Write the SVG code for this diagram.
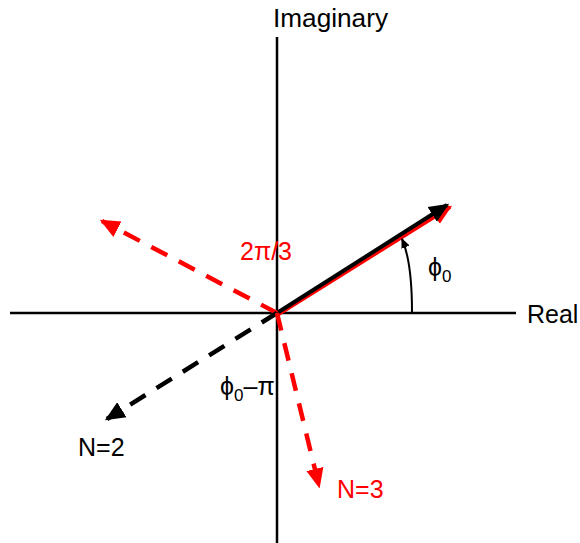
<svg xmlns="http://www.w3.org/2000/svg" width="580" height="543" viewBox="0 0 580 543">
<style>
text{font-family:"Liberation Sans",Arial,sans-serif;font-size:25px}
.r{fill:#ff0000}
.k{fill:#000}
.ax{stroke:#000;stroke-width:2.5;fill:none}
.dr{stroke:#ff0000;stroke-width:4.5;fill:none;stroke-dasharray:18 13}
.dk{stroke:#000;stroke-width:4.5;fill:none;stroke-dasharray:18 13}
</style>
<defs>
<marker id="hr" markerUnits="userSpaceOnUse" markerWidth="20" markerHeight="20" refX="14" refY="7" orient="auto" viewBox="0 0 16 14"><path d="M0,0 L16,7 L0,14 z" fill="#ff0000"/></marker>
<marker id="hk" markerUnits="userSpaceOnUse" markerWidth="20" markerHeight="20" refX="14" refY="7" orient="auto" viewBox="0 0 16 14"><path d="M0,0 L16,7 L0,14 z" fill="#000"/></marker>
<marker id="ha" markerUnits="userSpaceOnUse" markerWidth="10" markerHeight="10" refX="8" refY="4" orient="auto" viewBox="0 0 9 8"><path d="M0,0 L9,4 L0,8 z" fill="#000"/></marker>
</defs>
<g id="axes">
<line class="ax" x1="277" y1="37" x2="277" y2="543"/>
<line class="ax" x1="10" y1="313" x2="516" y2="313"/>
</g>
<g id="connectors">
<line x1="277" y1="315" x2="450" y2="207" stroke="#ff0000" stroke-width="4" marker-end="url(#hr)"/>
<line x1="277" y1="313" x2="447" y2="205" stroke="#000" stroke-width="4" marker-end="url(#hk)"/>
<path class="dr" d="M277,313 L102,221" marker-end="url(#hr)"/>
<path class="dk" d="M277,313 L107,419" marker-end="url(#hk)"/>
<path class="dr" d="M277,313 L319,486" marker-end="url(#hr)"/>
<path d="M412,312 Q412,262 402,239" stroke="#000" stroke-width="2" fill="none" marker-end="url(#ha)"/>
</g>
<g id="labels">
<text x="273" y="27" class="k" textLength="115" lengthAdjust="spacingAndGlyphs">Imaginary</text>
<text x="527" y="323" class="k">Real</text>
<text x="240" y="260" class="r">2π/3</text>
<text x="428" y="276" class="k">ϕ<tspan font-size="17" dy="6">0</tspan></text>
<text x="220" y="395" class="k">ϕ<tspan font-size="17" dy="6">0</tspan><tspan dy="-6">–π</tspan></text>
<text x="78" y="456" class="k">N=2</text>
<text x="337" y="498" class="r">N=3</text>
</g>
</svg>
